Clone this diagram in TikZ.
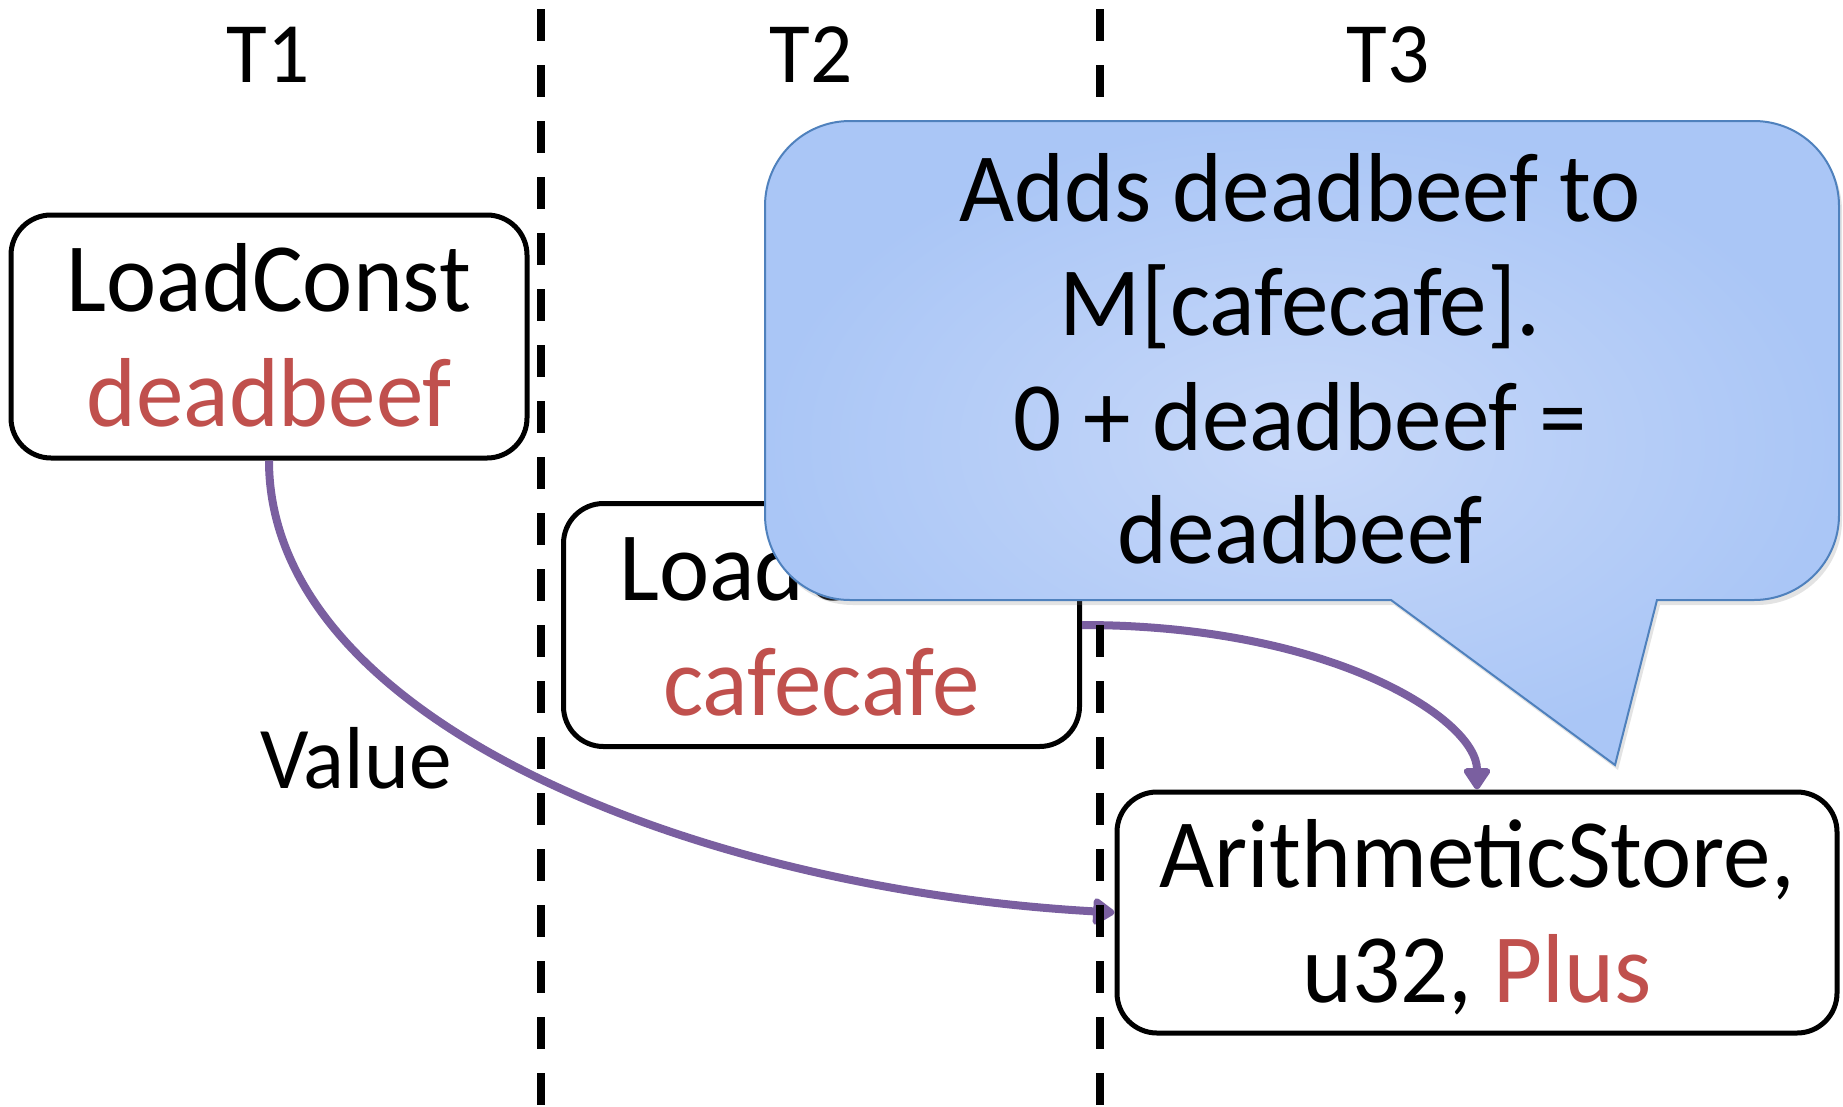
\documentclass[tikz,border=0pt]{standalone}
\usepackage{fontspec}
\setmainfont{Carlito}[FakeStretch=0.97]
\usetikzlibrary{arrows.meta,shadows,calc}
\definecolor{redtxt}{HTML}{C0504D}
\definecolor{arrowc}{HTML}{7A5FA0}
\definecolor{calloutborder}{HTML}{4F81BD}
\definecolor{calloutin}{RGB}{199,216,249}
\definecolor{calloutout}{RGB}{170,198,246}
\begin{document}
\begin{tikzpicture}[x=1pt,y=-1pt,
  box/.style={draw=black, line width=5pt, rounded corners=40pt, fill=white,
    minimum width=516pt, minimum height=243pt, inner sep=0pt},
  boxtext/.style={anchor=base, font=\fontsize{98}{114}\selectfont, inner sep=0pt},
  lbl/.style={anchor=base, font=\fontsize{86}{100}\selectfont, inner sep=0pt},
  flow/.style={draw=arrowc, line width=8pt, -{Triangle[length=24pt,width=30pt,round]}},
  sep/.style={line width=8pt, dash pattern=on 32pt off 24pt},
  bubble/.style={inner color=calloutin, outer color=calloutout, draw=calloutborder,
    line width=2pt, drop shadow={shadow xshift=3pt, shadow yshift=-5pt, opacity=0.22}}
]
\useasboundingbox (0,0) rectangle (1843,1106);

% thread labels
\node[lbl] (T1) at (268,82) {T1};
\node[lbl] (T2) at (811,82) {T2};
\node[lbl] (T3) at (1388,82) {T3};

% boxes
\node[box] (b1) at (269,336.5) {};
\node[box] (b2) at (821.5,625) {};
\node[box, minimum width=720pt, minimum height=241pt] (b3) at (1477,912.5) {};

\node[boxtext] (b1a) at ($(b1.center)+(0,-25)$) {LoadConst};
\node[boxtext, text=redtxt] (b1b) at ($(b1.center)+(0,90)$) {deadbeef};
\node[boxtext] (b2a) at ($(b2.center)+(0,-25)$) {LoadConst};
\node[boxtext, text=redtxt] (b2b) at ($(b2.center)+(0,90)$) {cafecafe};
\node[boxtext] (b3a) at ($(b3.center)+(0,-25)$) {ArithmeticStore,};
\node[boxtext] (b3b) at ($(b3.center)+(0,90)$) {u32, \textcolor{redtxt}{Plus}};

\node[lbl, font=\fontsize{88}{100}\selectfont] (val) at (356,788) {Value};

% connectors
\draw[flow] (b1.south) .. controls +(0,262) and +(-414,-23) .. (b3.west);
\draw[flow] (b2.east) .. controls +(250,0) and +(0,-70) .. (b3.north);

% thread separators
\coordinate (s1top) at (541,9);
\coordinate (s1bot) at (541,1106);
\coordinate (s2top) at (1100,9);
\coordinate (s2bot) at (1100,1106);
\draw[sep] (s1top) -- (s1bot);
\draw[sep] (s2top) -- (s2bot);

% callout
\shadedraw[bubble] (1391,600) -- (850,600)
  .. controls (803,600) and (765,562) .. (765,515) -- (765,206)
  .. controls (765,159) and (803,121) .. (850,121) -- (1754,121)
  .. controls (1801,121) and (1839,159) .. (1839,206) -- (1839,515)
  .. controls (1839,562) and (1801,600) .. (1754,600) -- (1657,600)
  -- (1615,765) -- cycle;
\node[boxtext] (c1) at (1300,221) {Adds deadbeef to};
\node[boxtext] (c2) at (1300,335) {M[cafecafe].};
\node[boxtext] (c3) at (1300,450) {0 + deadbeef =};
\node[boxtext] (c4) at (1300,563) {deadbeef};
\end{tikzpicture}
\end{document}
